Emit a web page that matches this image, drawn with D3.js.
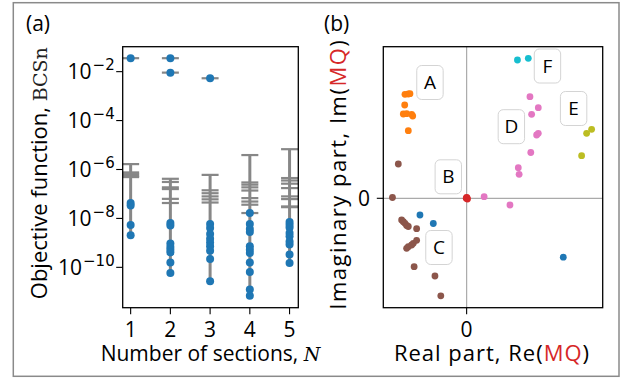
<!DOCTYPE html>
<html><head><meta charset="utf-8">
<script src="https://cdn.jsdelivr.net/npm/d3@7"></script>
<style>body{margin:0;background:#fff}svg{display:block}text{font-family:"Open Sans",sans-serif}</style>
</head><body>
<svg id="c" width="633" height="381"></svg>
<script>
// ---------- Panel (a) data: log10 of objective function ----------
const sections = [1, 2, 3, 4, 5];
const dotsN1 = [-1.45, -7.37, -7.47, -8.27, -8.69];
const dotsN2 = [-1.45, -2.04, -8.19, -8.29, -9.03, -9.17, -9.28, -9.39, -9.80, -10.23];
const dotsN3 = [-2.27, -8.23, -8.39, -8.64, -8.83, -8.98, -9.14, -9.32, -9.66, -10.57];
const dotsN4 = [-7.78, -8.23, -8.43, -8.56, -9.14, -9.28, -9.41, -9.80, -10.19, -10.91, -11.16];
const dotsN5 = [-8.15, -8.26, -8.37, -8.60, -8.73, -8.94, -9.07, -9.48, -9.82];
const capsN1 = [-1.45, -5.78, -6.12, -6.19, -6.26, -6.31];
const capsN2 = [-1.45, -2.04, -6.38, -6.51, -6.73, -6.80, -7.20, -7.37];
const capsN3 = [-2.27, -6.22, -6.85, -6.97, -7.10, -7.22, -7.35];
const capsN4 = [-5.41, -6.53, -6.62, -6.73, -6.86, -7.17, -7.31, -7.44, -7.78];
const capsN5 = [-5.17, -6.35, -6.45, -6.58, -6.76, -7.10, -7.21, -7.51, -7.54];
const yTickExps = [-2, -4, -6, -8, -10];

// ---------- Panel (b) data: complex plane points (arbitrary units) ----------
const ptsOrange = [[-0.74,1.04],[-0.70,1.043],[-0.68,1.046],[-0.743,0.933],[-0.76,0.843],[-0.72,0.846],[-0.66,0.84],[-0.647,0.823],[-0.70,0.676]];
const ptsCyan = [[0.61,1.383],[0.74,1.40]];
const ptsPink = [[0.76,1.016],[0.86,0.906],[0.78,0.84],[0.84,0.633],[0.86,0.65],[0.77,0.458],[0.62,0.306],[0.63,0.24],[0.21,0.016],[0.52,-0.067]];
const ptsOlive = [[1.44,0.65],[1.50,0.69],[1.38,0.426]];
const ptsBlue = [[1.16,-0.589],[-0.56,-0.167],[-0.40,-0.252]];
const ptsRed = [[0.0,0.01],[0.01,-0.007],[-0.005,0.0],[0.005,0.004]];
const ptsBrown = [[-0.82,0.343],[-0.89,0.008],[-0.78,-0.217],[-0.76,-0.234],[-0.74,-0.25],[-0.72,-0.272],[-0.70,-0.282],[-0.60,-0.304],[-0.72,-0.50],[-0.70,-0.484],[-0.66,-0.467],[-0.64,-0.45],[-0.60,-0.42],[-0.63,-0.684],[-0.38,-0.777],[-0.31,-0.975]];
const boxLabels = ["A","F","E","D","B","C"];
const boxPos = [[-0.44,1.158],[0.97,1.323],[1.284,0.898],[0.537,0.716],[-0.22,0.215],[-0.332,-0.492]];

const svg = d3.select("#c");
const FS = 21;

// figure frame
svg.append("rect").attr("x",13.3).attr("y",2.7).attr("width",605.7).attr("height",373.6)
  .attr("fill","none").attr("stroke","#8a8a8a").attr("stroke-width",1.5);

// ================= Panel (a) =================
const A = {l:122.7, r:298.3, t:46.7, b:307.7};
const xa = d3.scaleLinear().domain([0.8, 5.22]).range([A.l, A.r]);
const ya = d3.scaleLog().domain([Math.pow(10,-11.65), Math.pow(10,-0.98)]).range([A.b, A.t]);
const ga = svg.append("g");
const dotsAll = [dotsN1, dotsN2, dotsN3, dotsN4, dotsN5];
const capsAll = [capsN1, capsN2, capsN3, capsN4, capsN5];
const grey = "#878787";
sections.forEach((n, i) => {
  const lowDots = dotsAll[i].filter(v => v < -4);
  const lowCaps = capsAll[i].filter(v => v < -4);
  const top = d3.max(lowCaps), bot = d3.min(lowDots);
  ga.append("line").attr("x1",xa(n)).attr("x2",xa(n))
    .attr("y1",ya(Math.pow(10,top))).attr("y2",ya(Math.pow(10,bot)))
    .attr("stroke",grey).attr("stroke-width",3);
  capsAll[i].forEach(c => {
    ga.append("line").attr("x1",xa(n)-8.5).attr("x2",xa(n)+8.5)
      .attr("y1",ya(Math.pow(10,c))).attr("y2",ya(Math.pow(10,c)))
      .attr("stroke",grey).attr("stroke-width",2.2);
  });
});
sections.forEach((n, i) => {
  dotsAll[i].forEach(v => {
    ga.append("circle").attr("cx",xa(n)).attr("cy",ya(Math.pow(10,v))).attr("r",4).attr("fill","#1f77b4");
  });
});
ga.append("rect").attr("x",A.l).attr("y",A.t).attr("width",A.r-A.l).attr("height",A.b-A.t)
  .attr("fill","none").attr("stroke","#000").attr("stroke-width",1.3);
// y ticks
yTickExps.forEach(e => {
  const y = ya(Math.pow(10,e));
  ga.append("line").attr("x1",A.l-6.5).attr("x2",A.l).attr("y1",y).attr("y2",y).attr("stroke","#000").attr("stroke-width",1.1);
  const t = ga.append("text").attr("x",A.l-8).attr("y",y+7.5).attr("text-anchor","end").attr("font-size",FS).attr("fill","#000");
  t.append("tspan").text("10");
  t.append("tspan").attr("font-size",15).attr("font-family","DejaVu Sans").attr("dx",1).attr("dy",-9).text("\u2212"+Math.abs(e));
});
// x ticks
sections.forEach(n => {
  const x = xa(n);
  ga.append("line").attr("x1",x).attr("x2",x).attr("y1",A.b).attr("y2",A.b+6.5).attr("stroke","#000").attr("stroke-width",1.1);
  ga.append("text").attr("x",x).attr("y",337).attr("text-anchor","middle").attr("font-size",FS).text(n);
});
// labels
const xl = ga.append("text").attr("x",(A.l+A.r)/2).attr("y",361).attr("text-anchor","middle").attr("font-size",FS);
xl.append("tspan").text("Number of sections, ");
xl.append("tspan").attr("font-family","DejaVu Serif").attr("font-style","italic").attr("font-size",19).text("N");
const yl = ga.append("text").attr("transform",`translate(46.5,${(A.t+A.b)/2 - 4}) rotate(-90)`).attr("text-anchor","middle").attr("font-size",22);
yl.append("tspan").text("Objective function, ");
yl.append("tspan").attr("font-family","DejaVu Serif").attr("font-size",19).attr("fill","#222").text("BCSn");
svg.append("text").attr("x",26).attr("y",31).attr("font-size",FS).text("(a)");

// ================= Panel (b) =================
const B = {l:383.3, r:602.7, t:46.7, b:307.7};
const xb = d3.scaleLinear().domain([-1, 1.633]).range([B.l, B.r]);
const yb = d3.scaleLinear().domain([-1.094, 1.516]).range([B.b, B.t]);
const gb = svg.append("g");
gb.append("line").attr("x1",xb(0)).attr("x2",xb(0)).attr("y1",B.t).attr("y2",B.b).attr("stroke","#aaaaaa").attr("stroke-width",1.2);
gb.append("line").attr("x1",B.l).attr("x2",B.r).attr("y1",yb(0)).attr("y2",yb(0)).attr("stroke","#aaaaaa").attr("stroke-width",1.2);
const series = [[ptsOrange,"#ff7f0e"],[ptsCyan,"#17becf"],[ptsPink,"#e377c2"],[ptsOlive,"#bcbd22"],[ptsBrown,"#8c564b"],[ptsBlue,"#1f77b4"],[ptsRed,"#d62728"]];
series.forEach(([pts,col]) => {
  gb.selectAll(null).data(pts).enter().append("circle")
    .attr("cx",d=>xb(d[0])).attr("cy",d=>yb(d[1])).attr("r",3.4).attr("fill",col);
});
boxLabels.forEach((lab,i) => {
  const cx = xb(boxPos[i][0]), cy = yb(boxPos[i][1]);
  gb.append("rect").attr("x",cx-13.2).attr("y",cy-17).attr("width",26.4).attr("height",34).attr("rx",5)
    .attr("fill","#fff").attr("stroke","#d4d4d4").attr("stroke-width",1);
  gb.append("text").attr("x",cx).attr("y",cy+6.6).attr("text-anchor","middle").attr("font-size",19).text(lab);
});
gb.append("rect").attr("x",B.l).attr("y",B.t).attr("width",B.r-B.l).attr("height",B.b-B.t)
  .attr("fill","none").attr("stroke","#000").attr("stroke-width",1.3);
gb.append("line").attr("x1",B.l-6.5).attr("x2",B.l).attr("y1",yb(0)).attr("y2",yb(0)).attr("stroke","#000").attr("stroke-width",1.1);
gb.append("text").attr("x",370).attr("y",yb(0)+7.5).attr("text-anchor","end").attr("font-size",FS).text("0");
gb.append("line").attr("x1",xb(0)).attr("x2",xb(0)).attr("y1",B.b).attr("y2",B.b+6.5).attr("stroke","#000").attr("stroke-width",1.1);
gb.append("text").attr("x",xb(0)).attr("y",337).attr("text-anchor","middle").attr("font-size",FS).text("0");
const bxl = gb.append("text").attr("x",(B.l+B.r)/2 - 1).attr("y",361).attr("text-anchor","middle").attr("font-size",22).attr("letter-spacing",1);
bxl.append("tspan").text("Real part, Re(");
bxl.append("tspan").attr("fill","#d62728").text("MQ");
bxl.append("tspan").text(")");
const byl = gb.append("text").attr("transform",`translate(346,${(B.t+B.b)/2 - 3}) rotate(-90)`).attr("text-anchor","middle").attr("font-size",22).attr("letter-spacing",1.5);
byl.append("tspan").text("Imaginary part, Im(");
byl.append("tspan").attr("fill","#d62728").text("MQ");
byl.append("tspan").text(")");
svg.append("text").attr("x",324).attr("y",31).attr("font-size",FS).text("(b)");
</script>
</body></html>
